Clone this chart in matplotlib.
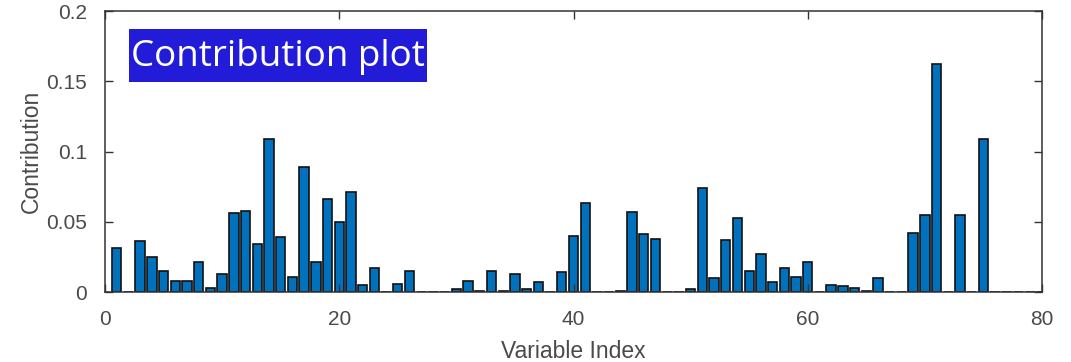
import matplotlib
matplotlib.use("Agg")
import matplotlib.pyplot as plt
from matplotlib.patches import Rectangle
import numpy as np

variable_index = list(range(1, 81))
contribution = [
    0.031, 0.0, 0.036, 0.025, 0.015, 0.008, 0.008, 0.021, 0.003, 0.013,
    0.056, 0.058, 0.034, 0.109, 0.039, 0.011, 0.089, 0.021, 0.066, 0.050,
    0.071, 0.005, 0.017, 0.0, 0.006, 0.015, 0.0, 0.0, 0.0, 0.002,
    0.008, 0.001, 0.015, 0.001, 0.013, 0.002, 0.007, 0.0, 0.014, 0.040,
    0.063, 0.0, 0.0, 0.001, 0.057, 0.041, 0.038, 0.0, 0.0, 0.002,
    0.074, 0.010, 0.037, 0.053, 0.015, 0.027, 0.007, 0.017, 0.011, 0.021,
    0.0, 0.005, 0.004, 0.003, 0.001, 0.010, 0.0, 0.0, 0.042, 0.055,
    0.162, 0.0, 0.055, 0.0, 0.109, 0.0, 0.0, 0.0, 0.0, 0.0,
]
x_ticks = [0, 20, 40, 60, 80]
y_ticks = [0, 0.05, 0.1, 0.15, 0.2]
y_tick_labels = ["0", "0.05", "0.1", "0.15", "0.2"]

plt.rcParams['font.family'] = ['Liberation Sans', 'DejaVu Sans']

fig = plt.figure(figsize=(10.71, 3.62), dpi=100)
ax = fig.add_axes([105 / 1071, 1 - 292 / 362, (1042 - 105) / 1071, (292 - 11) / 362])

ax.bar(variable_index, contribution, width=0.8, color="#0072BD",
       edgecolor="#111111", linewidth=1.2)

ax.set_xlim(0, 80)
ax.set_ylim(0, 0.2)
ax.set_xticks(x_ticks)
ax.set_xticklabels([str(t) for t in x_ticks])
ax.set_yticks(y_ticks)
ax.set_yticklabels(y_tick_labels)

tick_color = "#4a4a4a"
ax.tick_params(direction="in", top=True, right=True, length=6, width=1.0,
               colors="#333333", labelcolor=tick_color, labelsize=15)
ax.tick_params(axis="x", pad=13)
ax.tick_params(axis="y", pad=13)
for s in ax.spines.values():
    s.set_color("#333333")
    s.set_linewidth(1.1)

ax.set_xlabel("Variable Index", fontsize=16.5, color=tick_color, labelpad=8)
ax.set_ylabel("Contribution", fontsize=16.5, color=tick_color, labelpad=2)

# Title box overlay
rx0, ry0, rx1, ry1 = 129, 29, 427, 82
fig.patches.append(Rectangle((rx0 / 1071, 1 - ry1 / 362), (rx1 - rx0) / 1071,
                             (ry1 - ry0) / 362, transform=fig.transFigure,
                             facecolor="#221CD8", edgecolor="none", zorder=5))
fig.text((rx0 + rx1) / 2 / 1071, 1 - (ry0 + ry1) / 2 / 362 - 0.004, "Contribution plot",
         ha="center", va="center", color="white", fontsize=26.5,
         family=["Open Sans", "DejaVu Sans"], zorder=6)

fig.savefig("out.png", dpi=100)
